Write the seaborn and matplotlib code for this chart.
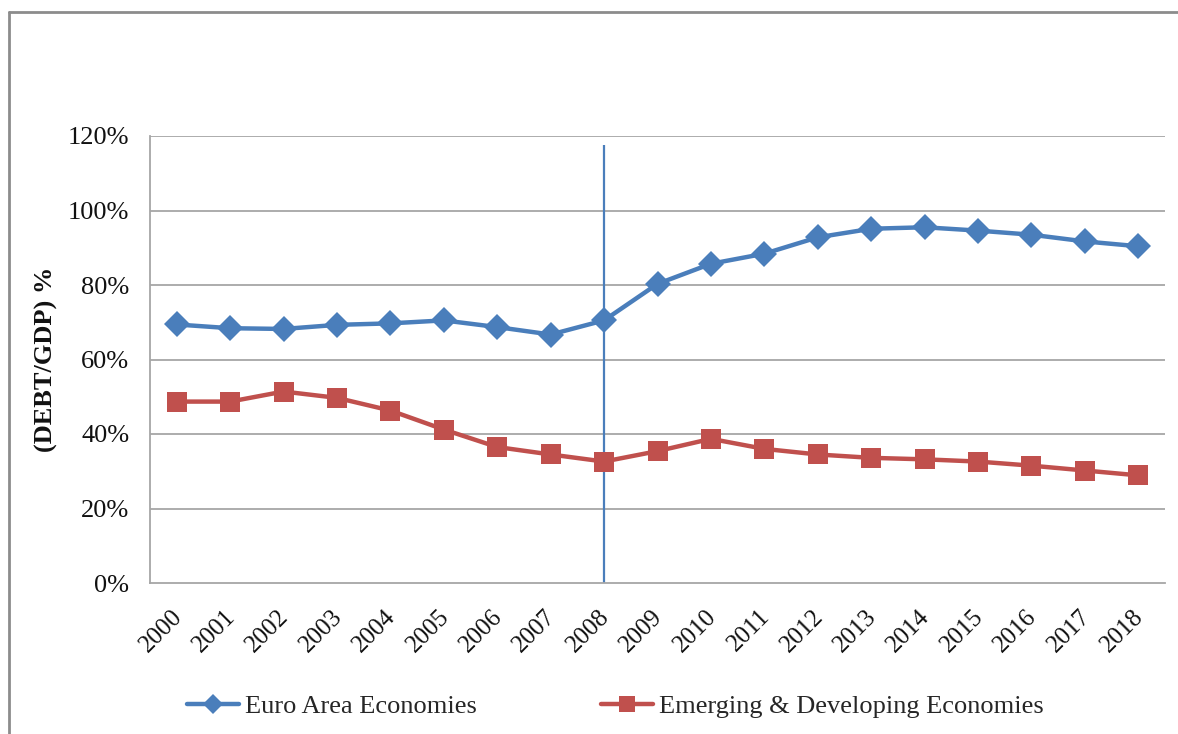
import matplotlib.pyplot as plt
import matplotlib.transforms as mtransforms
import seaborn as sns
import numpy as np
import pandas as pd
from matplotlib.lines import Line2D

years = [str(y) for y in range(2000, 2019)]
euro_area = [69.4, 68.4, 68.2, 69.3, 69.7, 70.5, 68.7, 66.7, 70.5, 80.3,
             85.7, 88.4, 92.8, 95.1, 95.5, 94.6, 93.5, 91.7, 90.4]
emerging = [48.7, 48.7, 51.4, 49.7, 46.3, 41.2, 36.5, 34.5, 32.6, 35.4,
            38.7, 36.0, 34.5, 33.6, 33.2, 32.6, 31.5, 30.2, 28.9]
y_ticks = [0, 20, 40, 60, 80, 100, 120]
crisis_year = "2008"

blue = "#4a7ebb"
red = "#c0504d"
grid_grey = "#a6a6a6"

sns.set_theme(style="white")
plt.rcParams['font.family'] = ['Liberation Serif', 'DejaVu Serif']

df = pd.DataFrame({"pos": np.arange(len(years)), "euro": euro_area, "emerging": emerging})

fig = plt.figure(figsize=(11.78, 7.34), dpi=100)
ax = fig.add_axes([150 / 1178, 1 - 583 / 734, 1015 / 1178, 447 / 734])

# horizontal gridlines
for t in y_ticks[1:]:
    ax.axhline(t, color=grid_grey, lw=1.3, zorder=0)

# 2008 marker line
ax.vlines(years.index(crisis_year), 0, 117.5, color=blue, lw=1.6, zorder=1)

sns.lineplot(data=df, x="pos", y="euro", ax=ax, color=blue, lw=3.2,
             marker="D", markersize=13, markeredgewidth=0, zorder=3)
sns.lineplot(data=df, x="pos", y="emerging", ax=ax, color=red, lw=3.2,
             marker="s", markersize=15, markeredgewidth=0, zorder=3)

ax.set_xlim(-0.5, len(years) - 0.5)
ax.set_ylim(0, 120)
ax.set_yticks(y_ticks)
ax.set_yticklabels([f"{t}%" for t in y_ticks], fontsize=19, color="#111111")
ax.set_xticks(range(len(years)))
ax.set_xticklabels(years, rotation=45, ha="right", rotation_mode="anchor", fontsize=18, color="#111111")
ax.tick_params(axis="y", length=0, pad=15)
ax.tick_params(axis="x", length=0, pad=16)
shift = mtransforms.ScaledTranslation(-6 / 100, 0, fig.dpi_scale_trans)
for lbl in ax.get_xticklabels():
    lbl.set_transform(lbl.get_transform() + shift)

ax.set_xlabel("")
ax.set_ylabel("(DEBT/GDP) %", fontsize=19, fontweight="bold", labelpad=7, color="#111111")

for side in ["top", "right"]:
    ax.spines[side].set_visible(False)
for side in ["left", "bottom"]:
    ax.spines[side].set_color(grid_grey)
    ax.spines[side].set_linewidth(1.3)

handles = [
    Line2D([], [], color=blue, lw=3.2, marker="D", markersize=10, markeredgewidth=0),
    Line2D([], [], color=red, lw=3.2, marker="s", markersize=12, markeredgewidth=0),
]
fig.legend(handles, ["Euro Area Economies", "Emerging & Developing Economies"],
           loc="center", bbox_to_anchor=(615 / 1178, 1 - 706 / 734), ncol=2,
           frameon=False, fontsize=19, handlelength=2.0, handletextpad=0.2,
           columnspacing=4.7)

# outer frame (left and top edges visible in the reference)
fig.add_artist(Line2D([9 / 1178, 9 / 1178], [0, 1 - 12 / 734], color="#8c8c8c", lw=2))
fig.add_artist(Line2D([9 / 1178, 1], [1 - 12 / 734, 1 - 12 / 734], color="#8c8c8c", lw=2))

fig.savefig("out.png", dpi=100)
